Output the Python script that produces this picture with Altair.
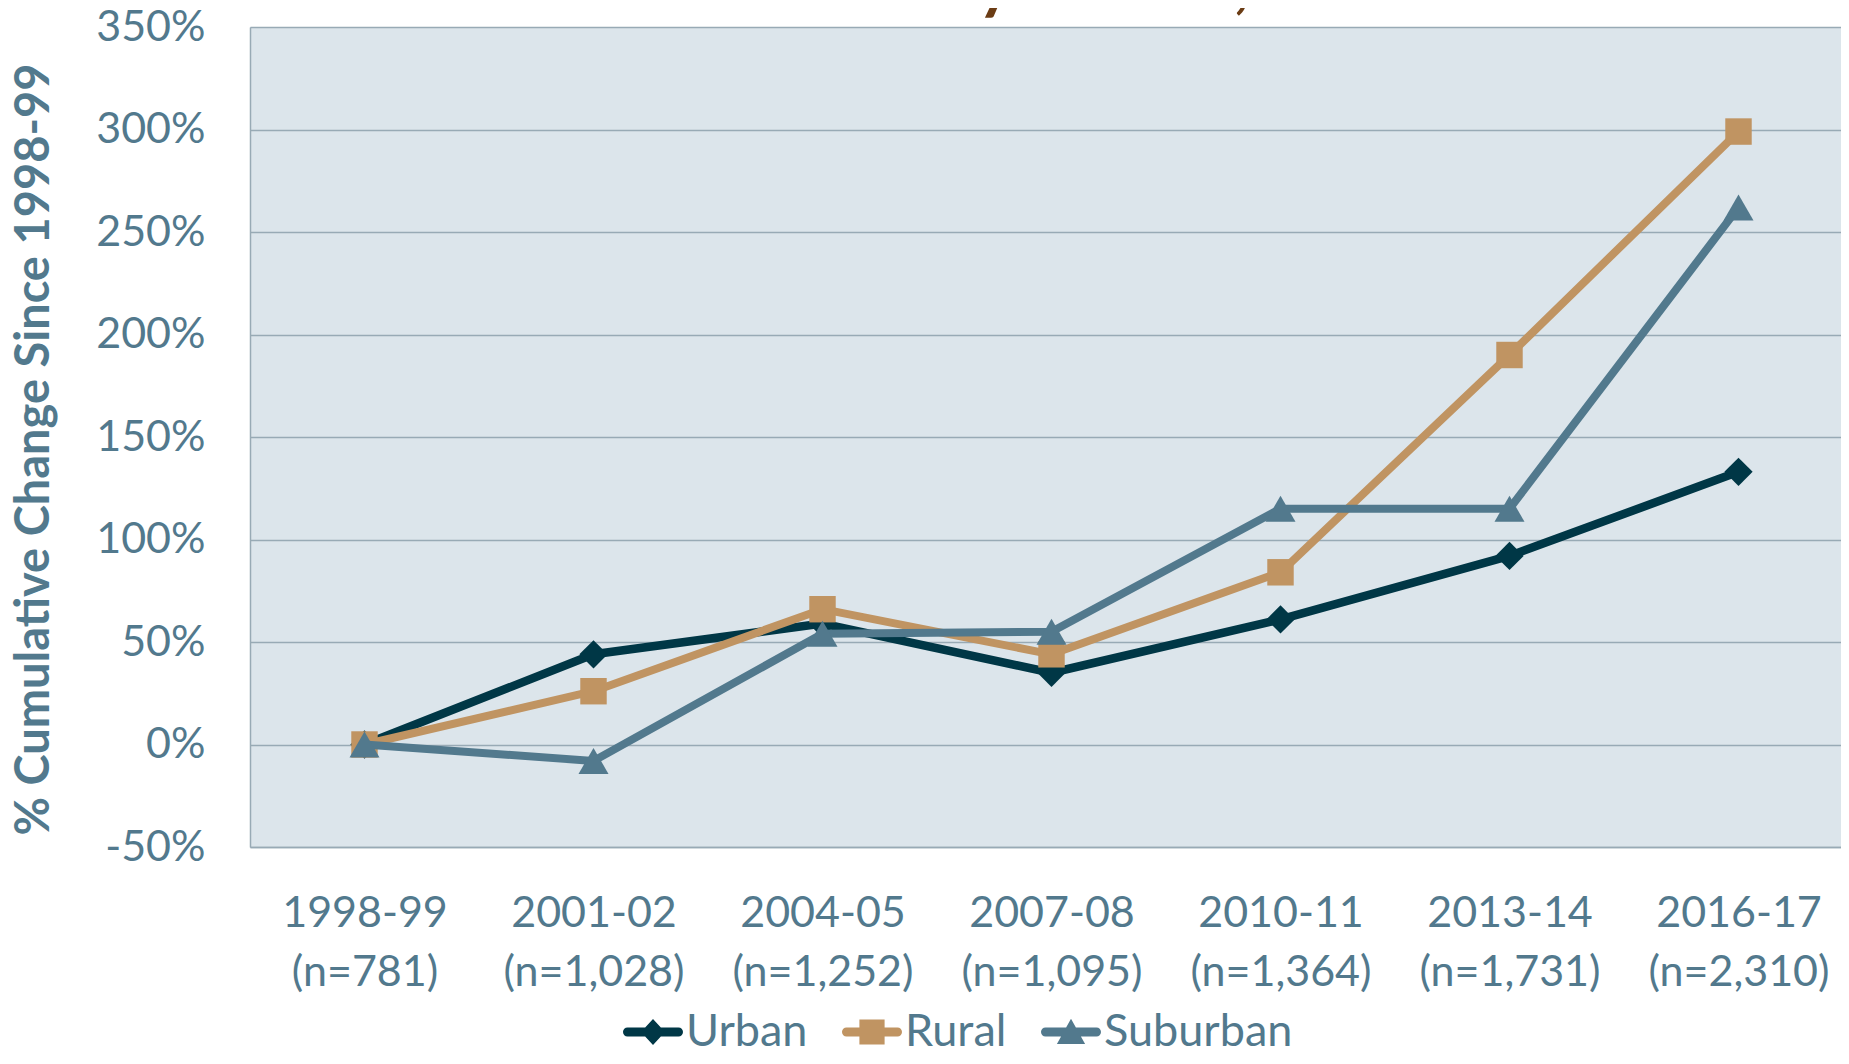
import altair as alt
import pandas as pd

# ---- data ----
periods = ["1998-99", "2001-02", "2004-05", "2007-08", "2010-11", "2013-14", "2016-17"]
n_counts = ["781", "1,028", "1,252", "1,095", "1,364", "1,731", "2,310"]
series = ["Urban", "Rural", "Suburban"]
urban = [0, 44, 59, 35, 61, 92, 133]
rural = [0, 26, 66, 44, 84, 190, 299]
suburban = [0, -8, 54, 55, 115, 115, 262]
y_ticks = [-50, 0, 50, 100, 150, 200, 250, 300, 350]
chart_title = ["Communities Served by SBHCs, 1998-2017"]

colors = ["#003746", "#c09462", "#52798d"]
shapes = ["diamond", "square", "triangle-up"]
line_widths = [8.5, 8, 8]
marker_sizes = [800, 700, 900]

labels = [f"{p}|(n={n})" for p, n in zip(periods, n_counts)]
rows = []
for s, vals in zip(series, [urban, rural, suburban]):
    for lab, v in zip(labels, vals):
        rows.append({"period": lab, "series": s, "value": v})
df = pd.DataFrame(rows)

FONT = "Lato"
TEXT = "#52798d"
GRID = "#98aab5"
BROWN = "#6b3c14"

# legend symbols: line segment with marker
cap = "M-0.85,-0.15L0.85,-0.15A0.15,0.15 0 0 1 0.85,0.15L-0.85,0.15A0.15,0.15 0 0 1 -0.85,-0.15Z"
sym_diamond = cap + "M0,-0.43L0.4,0L0,0.43L-0.4,0Z"
sym_square = cap + "M-0.42,-0.42L0.42,-0.42L0.42,0.42L-0.42,0.42Z"
sym_tri = cap + "M0,-0.44L0.47,0.4L-0.47,0.4Z"
sym_expr = (
    f"datum.value === 'Urban' ? '{sym_diamond}' : "
    f"(datum.value === 'Rural' ? '{sym_square}' : '{sym_tri}')"
)

x_enc = alt.X(
    "period:N",
    sort=labels,
    scale=alt.Scale(domain=labels),
    axis=alt.Axis(
        title=None,
        labelExpr="split(datum.value, '|')",
        labelAngle=0,
        labelLimit=500,
        ticks=False,
        labelPadding=45,
        labelLineHeight=59,
        labelBaseline="top",
        labelFontSize=43,
        labelFont=FONT,
        labelColor=TEXT,
        domainColor=GRID,
        domainWidth=1.5,
        grid=False,
    ),
)

y_enc = alt.Y(
    "value:Q",
    scale=alt.Scale(domain=[-50, 350], nice=False, zero=False),
    axis=alt.Axis(
        values=y_ticks,
        labelExpr="datum.value + '%'",
        ticks=False,
        labelPadding=45,
        labelFontSize=43,
        labelFont=FONT,
        labelColor=TEXT,
        grid=True,
        gridColor=GRID,
        gridWidth=1.5,
        domainColor=GRID,
        domainWidth=1.5,
        title="% Cumulative Change Since 1998-99",
        titleFont=FONT,
        titleFontSize=47,
        titleFontWeight="bold",
        titleColor=TEXT,
        titleAngle=270,
        titleX=-216,
        titleY=422,
        titleAlign="center",
        titleBaseline="middle",
        titleLimit=1000,
    ),
)

legend = alt.Legend(
    title=None,
    orient="none",
    legendX=373,
    legendY=975,
    direction="horizontal",
    padding=0,
    symbolSize=3600,
    symbolType={"expr": sym_expr},
    symbolFillColor={"expr": "scale('color', datum.value)"},
    symbolStrokeWidth=0,
    symbolOpacity=1,
    labelFontSize=45,
    labelFont=FONT,
    labelColor=TEXT,
    labelLimit=500,
    labelOffset=3,
    columnPadding=34,
)

color_scale = alt.Scale(domain=series, range=colors)

base = alt.Chart(df)
layers = []
for s, col, shp, w, sz in zip(series, colors, shapes, line_widths, marker_sizes):
    sub = base.transform_filter(alt.datum.series == s)
    layers.append(
        sub.mark_line(strokeWidth=w, strokeJoin="round").encode(
            x=x_enc, y=y_enc,
            color=alt.Color("series:N", scale=color_scale, legend=legend),
        )
    )
    layers.append(
        sub.mark_point(filled=True, opacity=1, size=sz, strokeWidth=0,
                       shape=shp, color=col).encode(x=x_enc, y=y_enc)
    )

# chart title (cropped at the top edge, as in the reference)
title_layer = alt.Chart(pd.DataFrame({"t": chart_title})).mark_text(
    font=FONT, fontSize=67, fontWeight="bold", color=BROWN,
    align="center", baseline="alphabetic", limit=2000,
).encode(text="t:N", x=alt.value(704), y=alt.value(-21))
layers.append(title_layer)

chart = (
    alt.layer(*layers)
    .properties(
        width=1603,
        height=820,
        autosize=alt.AutoSizeParams(type="none"),
        padding={"left": 242, "top": 19, "right": -12, "bottom": 201},
        background="white",
    )
    .configure_view(fill="#dce5eb", stroke=None)
)

chart.save("out.html", embed_options={"renderer": "svg", "actions": False})
